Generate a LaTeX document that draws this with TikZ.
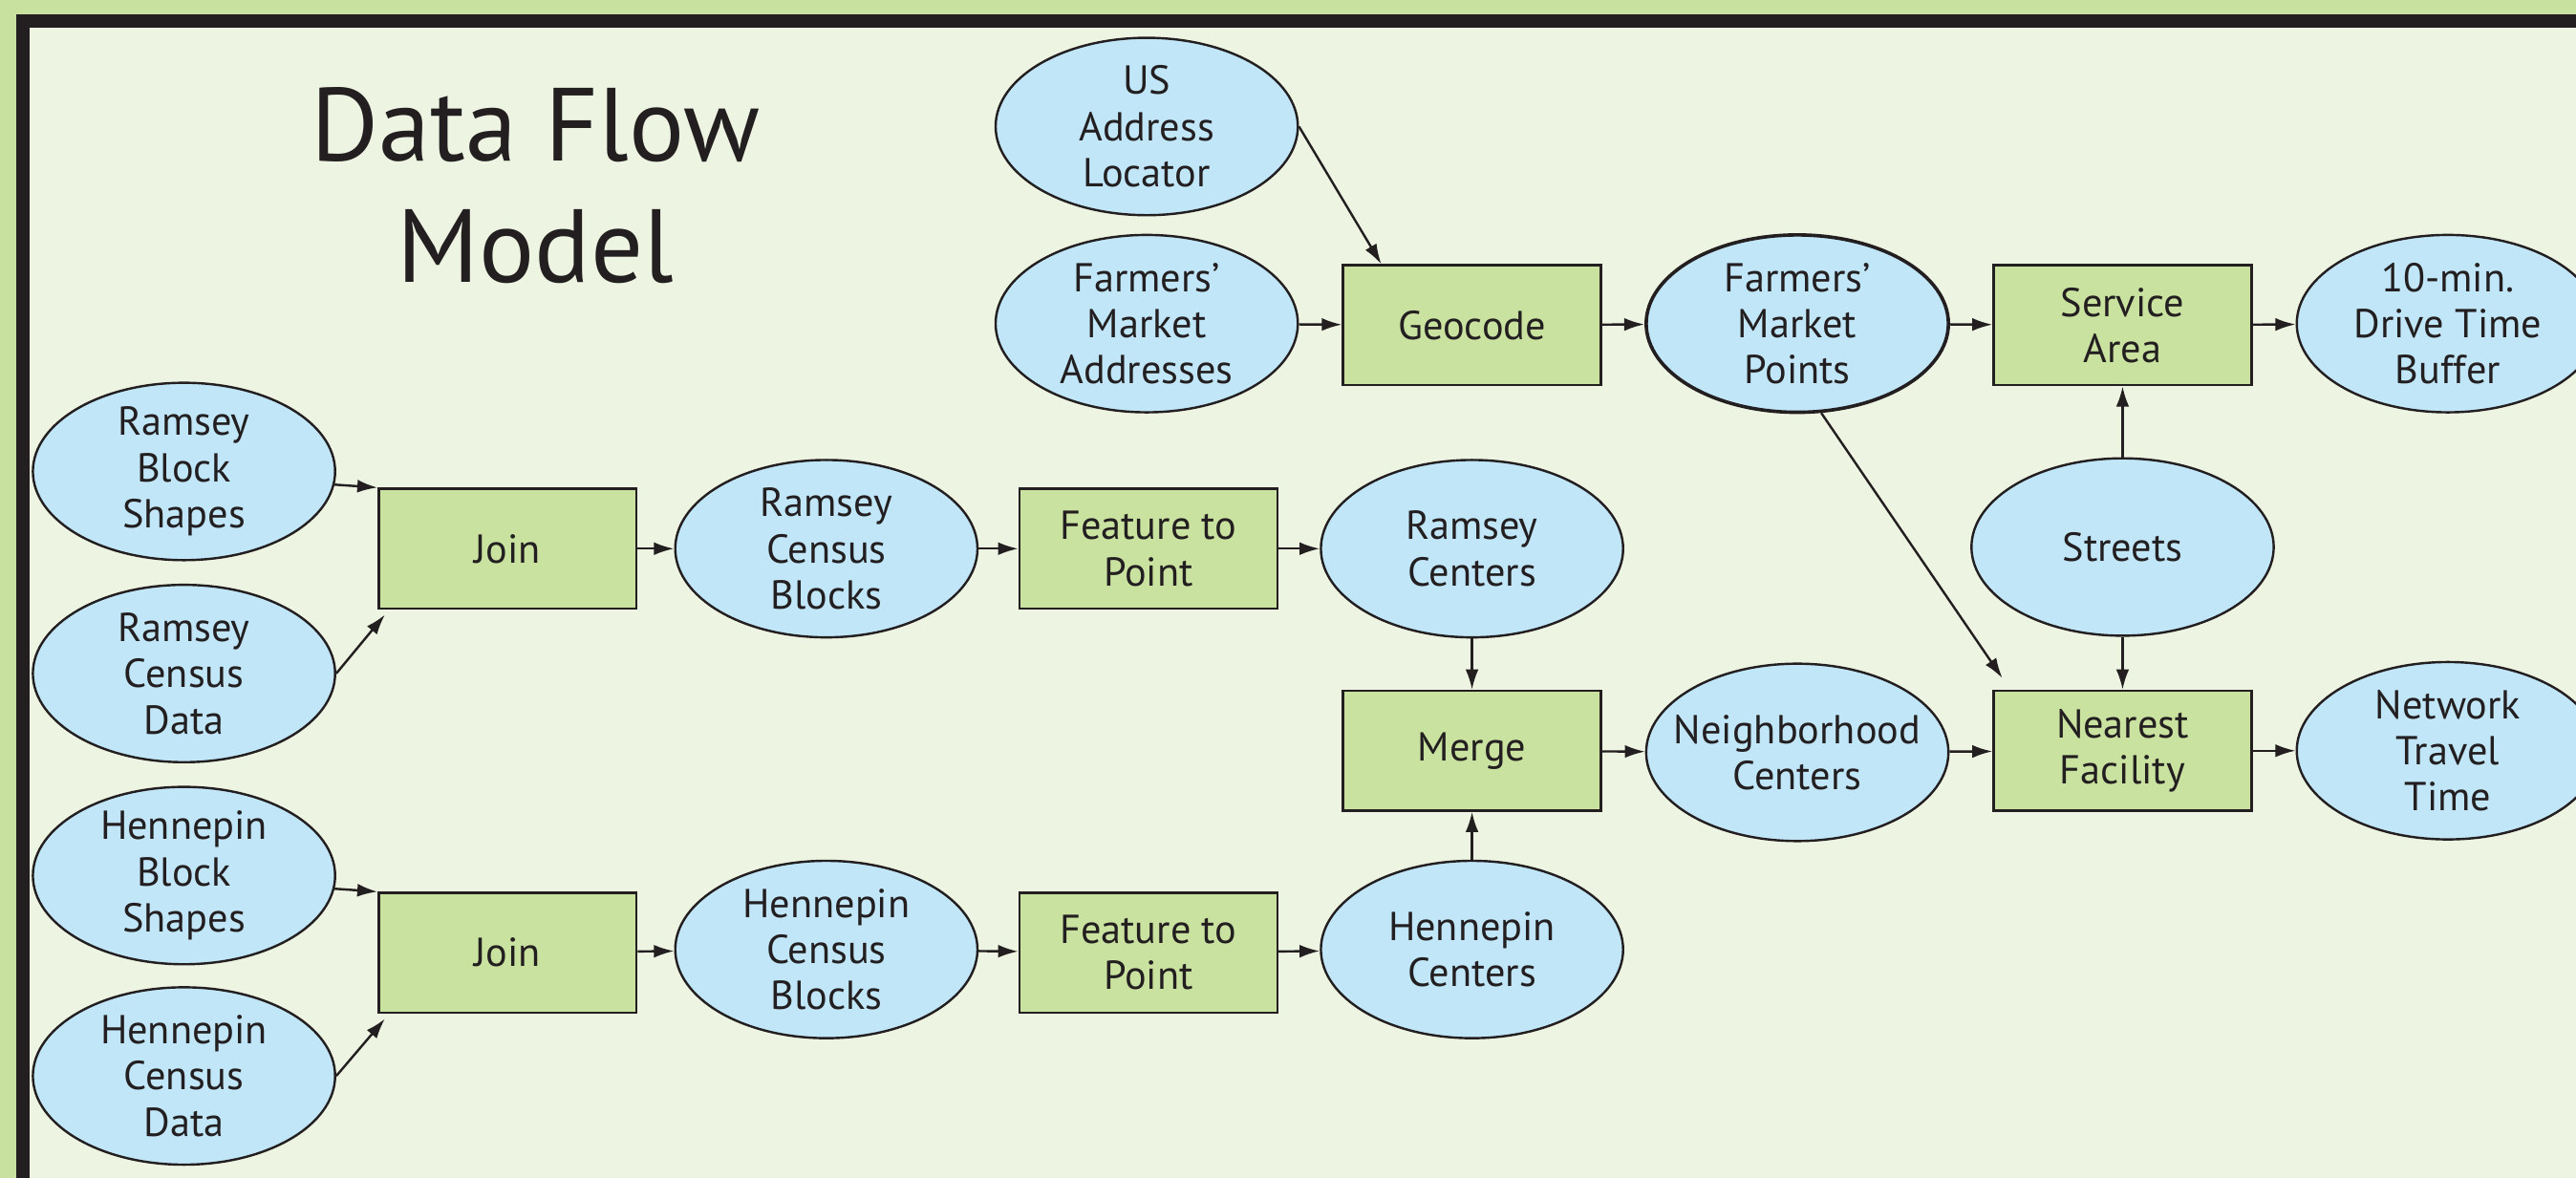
\documentclass[tikz,border=0pt]{standalone}
\usepackage{fontspec}
\setmainfont{PT Sans}
\usetikzlibrary{arrows.meta,shapes.geometric,calc}
\definecolor{outergreen}{HTML}{C8E19F}
\definecolor{inkc}{HTML}{231F20}
\definecolor{bgc}{HTML}{EDF4E2}
\definecolor{dblue}{HTML}{C0E6F8}
\definecolor{tgreen}{HTML}{C9E2A0}
\begin{document}
\begin{tikzpicture}[x=0.02cm,y=-0.02cm,
  every node/.style={text=inkc},
  data/.style={ellipse, draw=inkc, line width=0.8pt, fill=dblue,
    minimum width=3.68cm, minimum height=2.16cm, inner xsep=-30pt, inner ysep=-20pt,
    align=center, font=\fontsize{14}{16}\selectfont},
  tool/.style={rectangle, draw=inkc, line width=0.8pt, fill=tgreen,
    minimum width=3.14cm, minimum height=1.46cm, inner sep=0pt,
    align=center, font=\fontsize{14}{16}\selectfont},
  titletext/.style={font=\fontsize{36}{42}\selectfont, anchor=base},
  flow/.style={draw=inkc, line width=0.8pt, -{Latex[length=7pt,width=4.5pt]}}]
\fill[outergreen] (0,0) rectangle (1568,717);
\fill[inkc] (10,9) rectangle (1568,717);
\fill[bgc] (18,17) rectangle (1568,717);
\useasboundingbox (0,0) rectangle (1568,717);

\node[titletext] (t1) at (326,98) {Data Flow};
\node[titletext] (t2) at (326,172) {Model};

\node[data] (usal) at (698,77) {US\\Address\\Locator};
\node[data] (fma) at (698,197) {Farmers'\\Market\\Addresses};
\node[tool] (geo) at (896,198) {Geocode};
\node[data, line width=1.2pt] (fmp) at (1094,197) {Farmers'\\Market\\Points};
\node[tool] (sa) at (1292,198) {Service\\Area};
\node[data] (buf) at (1490,197) {10-min.\\Drive Time\\Buffer};
\node[data] (str) at (1292,333) {Streets};
\node[tool] (nf) at (1292,457) {Nearest\\Facility};
\node[data] (ntt) at (1490,457) {Network\\Travel\\Time};
\node[data] (nc) at (1094,458) {Neighborhood\\Centers};
\node[tool] (mrg) at (896,457) {Merge};
\node[data] (rc) at (896,334) {Ramsey\\Centers};
\node[data] (hc) at (896,578) {Hennepin\\Centers};
\node[tool] (rfp) at (699,334) {Feature to\\Point};
\node[tool] (hfp) at (699,580) {Feature to\\Point};
\node[data] (rcb) at (503,334) {Ramsey\\Census\\Blocks};
\node[data] (hcb) at (503,578) {Hennepin\\Census\\Blocks};
\node[tool] (rj) at (309,334) {Join};
\node[tool] (hj) at (309,580) {Join};
\node[data] (rbs) at (112,287) {Ramsey\\Block\\Shapes};
\node[data] (rcd) at (112,410) {Ramsey\\Census\\Data};
\node[data] (hbs) at (112,533) {Hennepin\\Block\\Shapes};
\node[data] (hcd) at (112,655) {Hennepin\\Census\\Data};

\draw[flow] (usal.east) -- ([xshift=0.48cm]geo.north west);
\draw[flow] (fma) -- (geo);
\draw[flow] (geo) -- (fmp);
\draw[flow] (fmp) -- (sa);
\draw[flow] (sa) -- (buf);
\draw[flow] (fmp.-75) -- ([xshift=0.12cm,yshift=0.14cm]nf.north west);
\draw[flow] (str.north) -- (sa.south);
\draw[flow] (str.south) -- (nf.north);
\draw[flow] (nc) -- (nf);
\draw[flow] (nf) -- (ntt);
\draw[flow] (mrg) -- (nc);
\draw[flow] (rc.south) -- (mrg.north);
\draw[flow] (hc.north) -- (mrg.south);
\draw[flow] (rfp) -- (rc);
\draw[flow] (rcb) -- (rfp);
\draw[flow] (rj) -- (rcb);
\draw[flow] (hfp) -- (hc);
\draw[flow] (hcb) -- (hfp);
\draw[flow] (hj) -- (hcb);
\draw[flow] (rbs.-5) -- (rj.north west);
\draw[flow] (rcd.east) -- ([xshift=0.09cm,yshift=-0.06cm]rj.south west);
\draw[flow] (hbs.-5) -- (hj.north west);
\draw[flow] (hcd.east) -- ([xshift=0.09cm,yshift=-0.06cm]hj.south west);
\end{tikzpicture}
\end{document}
